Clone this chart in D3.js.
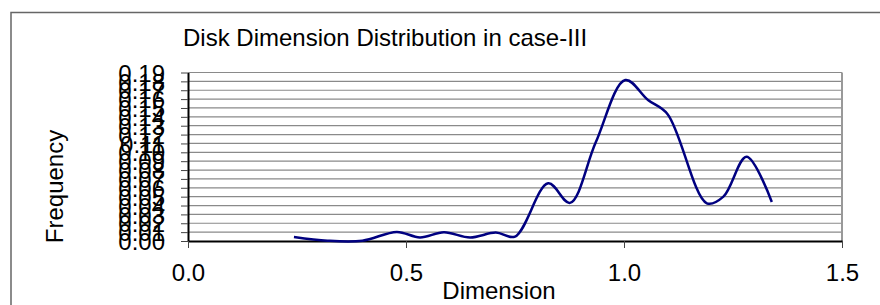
<!DOCTYPE html>
<html>
<head>
<meta charset="utf-8">
<script src="https://cdn.jsdelivr.net/npm/d3@7"></script>
<style>
  body { margin: 0; background: #fff; }
  svg text { font-family: "Liberation Sans", Arial, sans-serif; fill: #000; }
</style>
</head>
<body>
<div id="chart"></div>
<script>
// Values
var dimension = [0.243, 0.32, 0.40, 0.479, 0.532, 0.587, 0.647, 0.706, 0.750, 0.826, 0.876, 0.935, 1.003, 1.055, 1.100, 1.190, 1.228, 1.281, 1.339];
var frequency = [0.0045, 0.0003, 0.0003, 0.0102, 0.0040, 0.0098, 0.0040, 0.0095, 0.0050, 0.0650, 0.0430, 0.1110, 0.1815, 0.1590, 0.1430, 0.0425, 0.0500, 0.0950, 0.0440];
var yTicks = d3.range(0, 20).map(i => i / 100);
var xTicks = [0, 0.5, 1.0, 1.5];

var W = 880, H = 305;
var margin = {top: 72.5, right: 38, bottom: 64, left: 188};
var width = W - margin.left - margin.right,
    height = H - margin.top - margin.bottom;

var svg = d3.select("#chart").append("svg")
    .attr("width", W)
    .attr("height", H);

// outer chart frame (runs off the right and bottom edge)
svg.append("rect")
    .attr("x", 11).attr("y", 12.5)
    .attr("width", 900).attr("height", 320)
    .attr("fill", "none")
    .attr("stroke", "#666")
    .attr("stroke-width", 1.5);

var g = svg.append("g")
    .attr("transform", "translate(" + margin.left + "," + margin.top + ")");

var x = d3.scaleLinear().domain([0, 1.5]).range([0, width]);
var y = d3.scaleLinear().domain([0, 0.19]).range([height, 0]);

// gridlines
g.selectAll("line.grid")
    .data(yTicks.slice(1))
    .enter().append("line")
    .attr("class", "grid")
    .attr("x1", 0).attr("x2", width)
    .attr("y1", d => y(d)).attr("y2", d => y(d))
    .attr("stroke", "#8a8a8a")
    .attr("stroke-width", 1.2);

// right border of plot area
g.append("line")
    .attr("x1", width).attr("x2", width)
    .attr("y1", 0).attr("y2", height)
    .attr("stroke", "#999")
    .attr("stroke-width", 2);

// y axis
var yAxis = g.append("g")
    .call(d3.axisLeft(y).tickValues(yTicks).tickFormat(d3.format(".2f")).tickSize(7).tickSizeOuter(0));
yAxis.select(".domain").attr("stroke", "#000").attr("stroke-width", 2);
yAxis.selectAll(".tick line").attr("stroke", "#444");
yAxis.selectAll(".tick text")
    .attr("x", -23)
    .attr("dy", "0.36em")
    .style("font-size", "24px")
    .style("font-family", "'Liberation Sans', Arial, sans-serif");

// x axis
var xAxis = g.append("g")
    .attr("transform", "translate(0," + height + ")")
    .call(d3.axisBottom(x).tickValues(xTicks).tickFormat(d3.format(".1f")).tickSize(7).tickSizeOuter(0));
xAxis.select(".domain").attr("stroke", "#000").attr("stroke-width", 2);
xAxis.selectAll(".tick line").attr("stroke", "#444");
xAxis.selectAll(".tick text")
    .attr("y", 0)
    .attr("dy", 0)
    .attr("transform", "translate(0,40)")
    .style("font-size", "24px")
    .style("font-family", "'Liberation Sans', Arial, sans-serif");

// the smoothed line
var points = dimension.map((d, i) => [d, frequency[i]]);
var line = d3.line()
    .x(d => x(d[0]))
    .y(d => y(d[1]))
    .curve(d3.curveCatmullRom.alpha(0.5));

g.append("path")
    .datum(points)
    .attr("fill", "none")
    .attr("stroke", "#000080")
    .attr("stroke-width", 2.5)
    .attr("d", line);

// titles
svg.append("text")
    .attr("x", 183).attr("y", 46)
    .style("font-size", "24px")
    .text("Disk Dimension Distribution in case-III");

svg.append("text")
    .attr("x", 499).attr("y", 299)
    .attr("text-anchor", "middle")
    .style("font-size", "24px")
    .text("Dimension");

svg.append("text")
    .attr("transform", "translate(63,186.5) rotate(-90)")
    .attr("text-anchor", "middle")
    .style("font-size", "24px")
    .text("Frequency");
</script>
</body>
</html>
